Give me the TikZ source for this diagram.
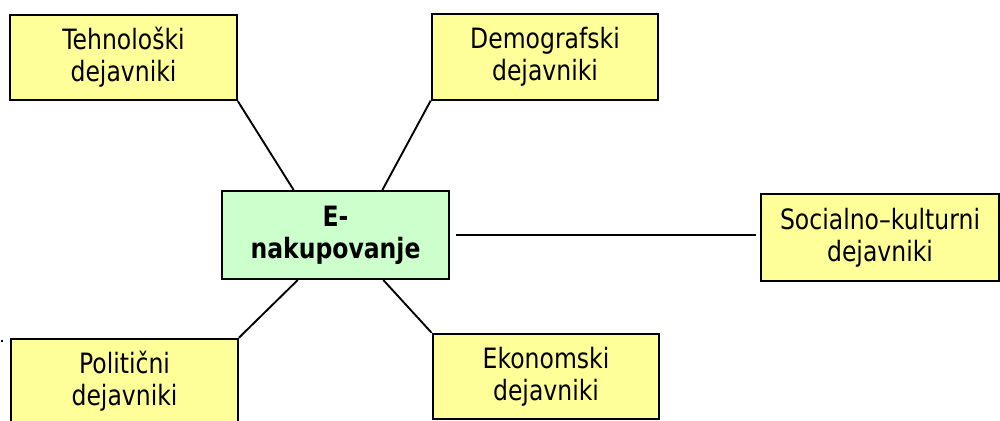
\documentclass[tikz,border=0pt]{standalone}
\usepackage{fontspec}
\setmainfont{DejaVu Sans}[FakeStretch=0.84]
\usetikzlibrary{positioning,calc}
\definecolor{factorfill}{HTML}{FFFF99}
\definecolor{corefill}{HTML}{CCFFCC}
\tikzset{
mindmap/.style={
    x=0.75pt,
    y=-0.75pt,
    line width=1.4pt,
    font=\fontsize{21}{24}\selectfont
},
factor/.style={
    rectangle,
    draw,
    line width=1.5pt,
    fill=factorfill,
    align=center,
    minimum width=170pt,
    minimum height=64pt,
    inner sep=2pt
},
core/.style={
    factor,
    fill=corefill,
    font=\fontsize{21}{24}\selectfont\bfseries,
    minimum height=66pt
},
link/.style={
    -
}}

\begin{document}
\begin{tikzpicture}[mindmap]
\useasboundingbox (0,0) rectangle (1000,421);

\node[core]    (emk)   at (335.5,235)  {E-\\nakupovanje};

\node[factor]  (tech)  at (123.5,57.5) {Tehnološki\\dejavniki};
\node[factor]  (demo)  at (545,57)     {Demografski\\dejavniki};
\node[factor, minimum width=178.5pt, minimum height=65pt]
               (soc)   at (880,237.5)  {Socialno–kulturni\\dejavniki};
\node[factor]  (pol)   at (124.5,381.5) {Politični\\dejavniki};
\node[factor]  (eko)   at (546,376.5)  {Ekonomski\\dejavniki};

\coordinate (emk-tl) at ($(emk.north west)!0.317!(emk.north east)$);
\coordinate (emk-tr) at ($(emk.north west)!0.705!(emk.north east)$);
\coordinate (emk-bl) at ($(emk.south west)!0.335!(emk.south east)$);
\coordinate (emk-br) at ($(emk.south west)!0.709!(emk.south east)$);
\coordinate (soc-in) at (emk.east -| soc.west);

\path    (tech.south east)  edge[link]  (emk-tl);
\path    (demo.south west)  edge[link]  (emk-tr);
\path    (pol.north east)   edge[link]  (emk-bl);
\path    (eko.north west)   edge[link]  (emk-br);
\path    (emk.east)  edge[link, shorten <=4.5pt, shorten >=3pt]  (soc-in);

\fill (1,340) rectangle (3,342);
\end{tikzpicture}
\end{document}
